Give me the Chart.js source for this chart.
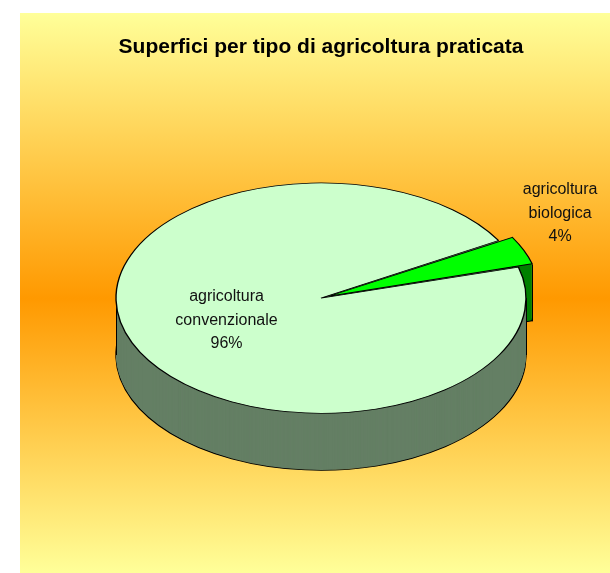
<!DOCTYPE html>
<html lang="it">
<head>
<meta charset="UTF-8" />
<title>Superfici per tipo di agricoltura praticata</title>
<script src="https://cdn.jsdelivr.net/npm/chart.js"></script>
<style>
  body {
    margin: 0;
    background: #fff;
  }
  .sfondo {
    position: absolute;
    left: 20px;
    top: 13px;
    width: 590px;
    height: 560px;
    background: linear-gradient(to bottom, #ffff99 0%, #ff9900 51%, #ffff99 100%);
  }
</style>
</head>
<body>
<div class="sfondo"><canvas id="torta" width="590" height="560"></canvas></div>
<script>
// dati
const categorie = ["agricoltura convenzionale", "agricoltura biologica"];
const valori = [96, 4];

// stile
const coloriSopra = ["#ccffcc", "#00ff00"];
const coloriLato = ["#647f64", "#008000"];
const stacco = [0, 34];
const posEtichette = [{ r: 0.5, giro: 0 }, { r: 1.38, giro: -9.5 }];

const SCHIACCIA = 0.562; // rapporto tra gli assi dell'ellisse
const SPESSORE = 57;     // altezza del bordo laterale in px
const BORDO = 1.4;

function schiaccia(ctx, x, y) {
  ctx.translate(x, y);
  ctx.scale(1, SCHIACCIA);
  ctx.translate(-x, -y);
}

// disegna un arco con opzioni temporanee
function disegnaCon(el, ctx, extra) {
  const orig = el.options;
  el.options = Object.assign(Object.create(orig), extra);
  el.draw(ctx);
  el.options = orig;
}

function nelGiro(a, da, a2) {
  for (let n = -1; n <= 1; n++) {
    const v = a + n * 2 * Math.PI;
    if (v >= da && v <= a2) return true;
  }
  return false;
}

const torta3d = {
  id: "torta3d",
  beforeDatasetsDraw(chart) {
    const ctx = chart.ctx;
    const archi = chart.getDatasetMeta(0).data;
    const mezzo = (el) => (el.startAngle + el.endAngle) / 2;

    // fianchi: prima le fette dietro
    const ordine = archi.map((a, i) => i).sort((a, b) => Math.sin(mezzo(archi[a])) - Math.sin(mezzo(archi[b])));
    ordine.forEach((i) => {
      const el = archi[i];
      for (let d = SPESSORE; d >= 1; d--) {
        ctx.save();
        ctx.translate(0, d);
        schiaccia(ctx, el.x, el.y);
        disegnaCon(el, ctx, {
          backgroundColor: coloriLato[i],
          borderWidth: d === SPESSORE ? BORDO : 0
        });
        ctx.restore();
      }
    });

    // spigoli verticali (stesso calcolo di ArcElement.draw)
    ctx.save();
    ctx.strokeStyle = "#000";
    ctx.lineWidth = 1;
    archi.forEach((el) => {
      const off = el.options.offset || 0;
      const giro = el.endAngle - el.startAngle;
      const t = off / 4;
      const R = el.outerRadius + t * (1 - Math.sin(Math.min(Math.PI, giro)));
      const cx = el.x + Math.cos(mezzo(el)) * t;
      const cy = el.y + Math.sin(mezzo(el)) * t * SCHIACCIA;
      const angoli = [0, Math.PI].filter((a) => nelGiro(a, el.startAngle, el.endAngle));
      if (off > 0) angoli.push(el.startAngle, el.endAngle);
      angoli.forEach((a) => {
        const x = Math.round(cx + Math.cos(a) * R) + 0.5;
        const y = cy + Math.sin(a) * R * SCHIACCIA;
        ctx.beginPath();
        ctx.moveTo(x, y);
        ctx.lineTo(x, y + SPESSORE);
        ctx.stroke();
      });
    });
    ctx.restore();

    // faccia superiore
    ctx.save();
    schiaccia(ctx, archi[0].x, archi[0].y);
  },
  afterDatasetsDraw(chart) {
    const ctx = chart.ctx;
    ctx.restore();

    const archi = chart.getDatasetMeta(0).data;
    const totale = valori.reduce((s, v) => s + v, 0);
    ctx.save();
    ctx.font = "16px 'Liberation Sans', Arial, sans-serif";
    ctx.fillStyle = "#111";
    ctx.textAlign = "center";
    ctx.textBaseline = "middle";
    archi.forEach((el, i) => {
      const p = posEtichette[i];
      const a = (el.startAngle + el.endAngle) / 2 + p.giro * Math.PI / 180;
      const px = el.x + Math.cos(a) * el.outerRadius * p.r;
      const py = el.y + Math.sin(a) * el.outerRadius * p.r * SCHIACCIA;
      const righe = categorie[i].split(" ").concat(Math.round(valori[i] / totale * 100) + "%");
      righe.forEach((testo, j) => {
        ctx.fillText(testo, px, py + (j - (righe.length - 1) / 2) * 23.5);
      });
    });
    ctx.restore();
  }
};

const ctx = document.getElementById("torta").getContext("2d");
const grafico = new Chart(ctx, {
  type: "pie",
  data: {
    labels: categorie,
    datasets: [
      {
        data: valori,
        backgroundColor: coloriSopra,
        borderColor: "#000",
        borderWidth: BORDO,
        offset: stacco
      }
    ]
  },
  options: {
    responsive: false,
    animation: false,
    radius: 205,
    rotation: 74.4,
    layout: {
      padding: { left: 12, right: 0, top: 0, bottom: 47 }
    },
    plugins: {
      legend: { display: false },
      tooltip: { enabled: false },
      title: {
        display: true,
        text: "Superfici per tipo di agricoltura praticata",
        color: "#000",
        font: { family: "'Liberation Sans', Arial, sans-serif", size: 21, weight: "bold" },
        padding: { top: 22, bottom: 10 }
      }
    }
  },
  plugins: [torta3d]
});
</script>
</body>
</html>
